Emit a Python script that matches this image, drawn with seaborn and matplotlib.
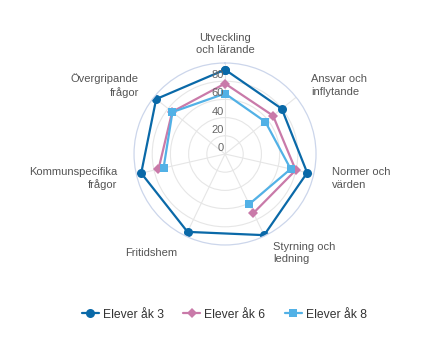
import numpy as np
import matplotlib
matplotlib.use('Agg')
import matplotlib.pyplot as plt
import matplotlib.transforms as mtransforms
from matplotlib.lines import Line2D
import seaborn as sns
import pandas as pd

# data
categories = ['Utveckling\noch lärande', 'Ansvar och\ninflytande', 'Normer och\nvärden',
              'Styrning och\nledning', 'Fritidshem', 'Kommunspecifika\nfrågor',
              'Övergripande\nfrågor']
ak3 = [92.7, 79.7, 92.6, 99.0, 95.0, 94.5, 96.8]
ak6 = [77.4, 67.5, 79.7, 72.0, np.nan, 75.0, 74.3]
ak8 = [66.4, 56.7, 74.0, 61.2, np.nan, 69.3, 73.9]
series_names = ['Elever åk 3', 'Elever åk 6', 'Elever åk 8']
r_ticks = [0, 20, 40, 60, 80]

sns.set_theme(style='white')
plt.rcParams['font.family'] = ['Liberation Sans', 'DejaVu Sans']

colors = ['#0a69a8', '#c97aa9', '#52b1e6']
markers = ['o', 'D', 's']
msizes = [6.5, 4.8, 6.2]

fig = plt.figure(figsize=(4.34, 3.45), dpi=100)
ax = fig.add_axes([0.3088, 0.2899, 0.4194, 0.5275], projection='polar')
ax.set_theta_zero_location('N')
ax.set_theta_direction(-1)

n = len(categories)
angles = np.arange(n) * 2 * np.pi / n


def runs(values):
    # split closed loop into runs without missing values
    vals = list(values)
    idx = list(range(n))
    if any(np.isnan(v) for v in vals):
        start = [i for i, v in enumerate(vals) if np.isnan(v)][0] + 1
        idx = [(start + k) % n for k in range(n)]
    else:
        idx = idx + [0]
    out, cur = [], []
    for i in idx:
        if np.isnan(vals[i]):
            if cur:
                out.append(cur)
            cur = []
        else:
            cur.append(i)
    if cur:
        out.append(cur)
    return out


for vals, name, c, m, ms in zip([ak3, ak6, ak8], series_names, colors, markers, msizes):
    for run in runs(vals):
        th = [angles[i] for i in run]
        if len(run) > 1 and run[-1] == 0:
            th[-1] = 2 * np.pi
        df = pd.DataFrame({'theta': th, 'r': [vals[i] for i in run]})
        sns.lineplot(data=df, x='theta', y='r', ax=ax, sort=False, estimator=None,
                     color=c, lw=1.6, marker=m, markersize=ms,
                     markeredgewidth=0, legend=False)

ax.set_ylim(0, 100)
ax.set_xlabel('')
ax.set_ylabel('')
ax.set_xticks(angles)
ax.set_xticklabels([])
ax.set_yticks([20, 40, 60, 80])
ax.set_yticklabels([])
ax.grid(True, color='#e6e6e6', lw=0.8)
ax.spines['polar'].set_color('#ccd6eb')
ax.spines['polar'].set_linewidth(0.9)
ax.tick_params(length=0, pad=0)

# radial labels
off = mtransforms.offset_copy(ax.transData, fig=fig, x=-1, y=6, units='dots')
for t in r_ticks:
    ax.text(0, t, str(t), transform=off, ha='right', va='center',
            fontsize=8, color='#666666')

# category labels
for a, lab in zip(angles, categories):
    s = np.sin(a)
    ha = 'center' if abs(s) < 0.1 else ('left' if s > 0 else 'right')
    ax.text(a, 121, lab, ha=ha, va='center', fontsize=8, color='#555555',
            linespacing=1.3)

handles = [Line2D([], [], color=c, marker=m, markersize=ms, lw=1.6, markeredgewidth=0)
           for c, m, ms in zip(colors, markers, msizes)]
fig.legend(handles, series_names, loc='center', bbox_to_anchor=(0.517, 0.088), ncol=3,
           frameon=False, fontsize=8.7, handlelength=1.4, columnspacing=1.6,
           handletextpad=0.35, labelcolor='#333333')

fig.savefig('out.png', dpi=100)
